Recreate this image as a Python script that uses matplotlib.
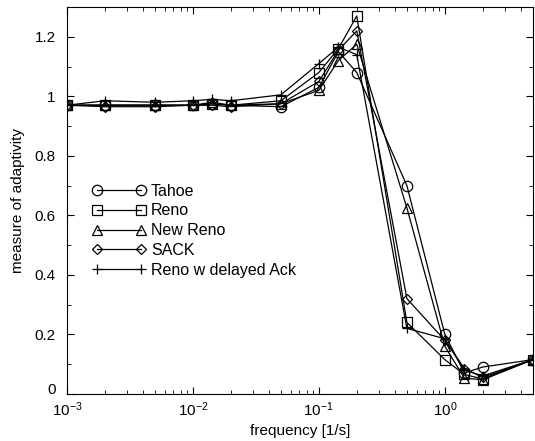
import numpy as np
import matplotlib
matplotlib.use("Agg")
from matplotlib import pyplot as plt
from matplotlib.ticker import MultipleLocator
from matplotlib.transforms import ScaledTranslation

plt.rcParams['font.family'] = ['Liberation Sans', 'DejaVu Sans']
plt.rcParams['mathtext.fontset'] = 'custom'
plt.rcParams['mathtext.rm'] = 'Liberation Sans'
plt.rcParams['mathtext.it'] = 'Liberation Sans:italic'

freq = [0.001, 0.002, 0.005, 0.01, 0.0143, 0.02, 0.05, 0.1, 0.143, 0.2, 0.5, 1.0, 1.43, 2.0, 5.0]

tahoe = [0.97, 0.97, 0.97, 0.97, 0.975, 0.97, 0.965, 1.03, 1.15, 1.08, 0.70, 0.20, 0.07, 0.09, 0.115]
reno = [0.97, 0.97, 0.97, 0.97, 0.975, 0.97, 0.985, 1.08, 1.16, 1.27, 0.24, 0.115, 0.065, 0.05, 0.115]
new_reno = [0.97, 0.97, 0.97, 0.97, 0.98, 0.97, 0.975, 1.02, 1.12, 1.175, 0.625, 0.16, 0.053, 0.047, 0.115]
sack = [0.97, 0.965, 0.965, 0.97, 0.97, 0.965, 0.975, 1.05, 1.155, 1.22, 0.32, 0.18, 0.085, 0.055, 0.115]
reno_delack = [0.97, 0.985, 0.98, 0.985, 0.99, 0.985, 1.005, 1.11, 1.165, 1.14, 0.22, 0.185, 0.08, 0.06, 0.115]

series = [
    ('Tahoe', tahoe, 'o'),
    ('Reno', reno, 's'),
    ('New Reno', new_reno, '^'),
    ('SACK', sack, 'D'),
    ('Reno w delayed Ack', reno_delack, '+'),
]

fig = plt.figure(figsize=(5.35, 4.41), dpi=100)
ax = fig.add_axes([0.125, 0.107, 0.871, 0.877])

for name, vals, m in series:
    ms = 5.5 if m == 'D' else 7.5
    ax.plot(freq, vals, color='black', lw=0.9, marker=m, ms=ms,
            mfc='none', mec='black', mew=0.9, label=name)

ax.set_xscale('log')
ax.set_xlim(1e-3, 5)
ax.set_ylim(0, 1.3)
ax.yaxis.set_major_locator(MultipleLocator(0.2))
ax.yaxis.set_minor_locator(MultipleLocator(0.1))
ax.set_yticks([0, 0.2, 0.4, 0.6, 0.8, 1.0, 1.2])
ax.set_yticklabels(['0', '0.2', '0.4', '0.6', '0.8', '1', '1.2'])
ax.tick_params(which='both', direction='in', top=True, right=True, labelsize=11)
ax.tick_params(which='major', length=5)
ax.tick_params(which='minor', length=3)
ax.tick_params(axis='y', pad=8)
ax.tick_params(axis='x', pad=5)

# lift the "0" a little so it sits above 10^-3 like the original
zero_lbl = ax.get_yticklabels()[0]
zero_lbl.set_transform(zero_lbl.get_transform() + ScaledTranslation(0, 4 / 72, fig.dpi_scale_trans))

ax.set_xlabel('frequency [1/s]', fontsize=11, labelpad=3)
ax.set_ylabel('measure of adaptivity', fontsize=11, labelpad=7)

ax.legend(loc='upper left', bbox_to_anchor=(0.04, 0.56), frameon=False,
          numpoints=2, handlelength=3.4, handletextpad=0.3, labelspacing=0.3,
          fontsize=11.5, borderaxespad=0)

fig.savefig('out.png', dpi=100)
